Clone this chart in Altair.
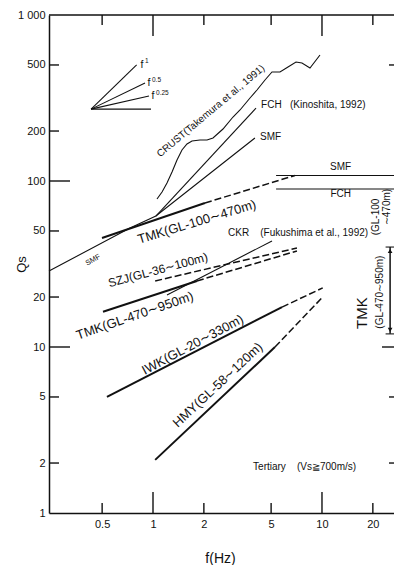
import altair as alt
import pandas as pd

INK = "#111111"
FONT = "Liberation Sans"
NB = "\u00a0"

# ---------------- data ----------------
X_DOMAIN = [0.2424, 26.68]
Y_DOMAIN = [1, 1000]

# reference slopes fan (f^1, f^0.5, f^0.25, f^0)
FAN_F0, FAN_Q0 = 0.43, 271
FAN_END_F = [0.80, 0.897, 0.947, 0.973]
FAN_END_Q = [500, 389, 325, 271]

# CRUST (Takemura et al., 1991)
CRUST_F = [1.056, 1.131, 1.210, 1.296, 1.387, 1.484, 1.589, 1.701, 1.897, 2.087, 2.265, 2.595,
           2.974, 3.273, 3.750, 4.125, 4.600, 5.060, 5.643, 6.293, 7.018, 7.614, 8.492, 9.731]
CRUST_Q = [77.9, 85.9, 97.3, 113.3, 133.8, 153.7, 167.1, 174.2, 176.6, 176.6, 181.6, 205.7,
           242.9, 267.8, 316.2, 353.3, 405.9, 453.5, 453.5, 486.1, 521.1, 513.8, 479.4, 574.2]

# Kinoshita (1992)
FCH_F = [1.04, 4.07]
FCH_Q = [61.5, 275]
SMF_F = [0.2424, 0.731, 1.04, 4.01]
SMF_Q = [28.7, 52.1, 61.5, 181.6]
SMF_HI_F = [5.35, 26.68]
SMF_HI_Q = [108, 108]
FCH_HI_F = [5.35, 26.68]
FCH_HI_Q = [89.5, 89.5]

# boreholes
TMK1_F, TMK1_Q = [0.499, 2.03], [45.4, 73.7]
TMK1D_F, TMK1D_Q = [2.03, 6.92], [73.7, 108]
TMK2_F, TMK2_Q = [0.506, 1.82], [16.3, 25.0]
TMK2D_F, TMK2D_Q = [1.82, 7.11], [25.0, 37.9]
SZJ_F, SZJ_Q = [1.03, 7.11], [25.0, 39.5]
CKR_F, CKR_Q = [1.21, 5.06], [20.6, 43.5]
IWK_F, IWK_Q = [0.534, 5.80], [5.0, 17.4]
IWKD_F, IWKD_Q = [5.80, 10.1], [17.4, 22.7]
HMY_F, HMY_Q = [1.03, 5.27], [2.09, 10.0]
HMYD_F, HMYD_Q = [5.27, 10.1], [10.0, 20.0]

# TMK (GL-470~950m) range bar
RANGE_F = 25.3
RANGE_Q = [12, 40]

# axis ticks
X_LABELS = [0.5, 1, 2, 5, 10, 20]
XT_SHORT = [0.5, 2, 5, 20]
XT_LONG = [1, 10]
Y_LABELS = [1, 2, 5, 10, 20, 50, 100, 200, 500, 1000]
YT_SHORT = [2, 5, 20, 50, 200, 500]
YT_LONG = [10, 100]
RT_SHORT = [2, 5, 500]
RT_LONG = [10]

# annotations (centered)
C_TEXT = ["CRUST(Takemura et al., 1991)", "SMF", "TMK(GL-100\u223c470m)", "SZJ(GL-36\u223c100m)",
          "TMK(GL-470\u223c950m)", "IWK(GL-20\u223c330m)", "HMY(GL-58\u223c120m)", "SMF", "FCH",
          "TMK", "(GL-470\u223c950m)", "(GL-100", "\u223c470m)", "f", "f", "f"]
C_F = [2.20, 0.442, 1.82, 1.07, 0.782, 1.72, 2.42, 12.9, 12.9, 17.3, 22.0, 20.9, 24.3, 0.861, 0.947, 1.0]
C_Q = [264, 33.4, 56.6, 29.1, 15.4, 10.3, 5.90, 121.5, 83.5, 16.0, 21.4, 60.7, 69.7, 500, 389, 325]
C_ANGLE = [320, 330, 343, 345, 341, 332, 317, 0, 0, 270, 270, 270, 270, 0, 0, 0]
C_SIZE = [10, 7.5, 13, 12, 13, 13, 13, 10, 10, 15, 10, 10, 10, 10.5, 10.5, 10.5]

# annotations (left aligned)
L_TEXT = ["FCH" + NB * 3 + "(Kinoshita, 1992)", "SMF", "CKR" + NB * 4 + "(Fukushima et al., 1992)",
          "Tertiary" + NB * 4 + "(Vs\u2267700m/s)", "1", "0.5", "0.25"]
L_F = [4.36, 4.30, 2.78, 3.91, 0.897, 0.986, 1.042]
L_Q = [287, 184, 48.6, 1.89, 528, 406, 339]
L_SIZE = [10, 10, 10, 10, 6.5, 6.5, 6.5]

# ---------------- build tables ----------------
def seg(name, fs, qs):
    return [dict(id=name, i=i, f=f, q=q) for i, (f, q) in enumerate(zip(fs, qs))]

thin_rows = []
for k, (ef, eq) in enumerate(zip(FAN_END_F, FAN_END_Q)):
    thin_rows += seg(f"fan{k}", [FAN_F0, ef], [FAN_Q0, eq])
thin_rows += seg("crust", CRUST_F, CRUST_Q)
thin_rows += seg("fch", FCH_F, FCH_Q)
thin_rows += seg("smf", SMF_F, SMF_Q)
thin_rows += seg("smfhi", SMF_HI_F, SMF_HI_Q)
thin_rows += seg("fchhi", FCH_HI_F, FCH_HI_Q)
thin_rows += seg("ckr", CKR_F, CKR_Q)
thin_df = pd.DataFrame(thin_rows)

thick_df = pd.DataFrame(seg("tmk1", TMK1_F, TMK1_Q) + seg("tmk2", TMK2_F, TMK2_Q)
                        + seg("iwk", IWK_F, IWK_Q) + seg("hmy", HMY_F, HMY_Q))
dash_df = pd.DataFrame(seg("tmk1d", TMK1D_F, TMK1D_Q) + seg("tmk2d", TMK2D_F, TMK2D_Q)
                       + seg("szj", SZJ_F, SZJ_Q) + seg("iwkd", IWKD_F, IWKD_Q)
                       + seg("hmyd", HMYD_F, HMYD_Q))

cdf = pd.DataFrame(dict(t=C_TEXT, f=C_F, q=C_Q, a=C_ANGLE, s=C_SIZE))
ldf = pd.DataFrame(dict(t=L_TEXT, f=L_F, q=L_Q, s=L_SIZE))

xs = alt.Scale(type="log", domain=X_DOMAIN, nice=False)
ys = alt.Scale(type="log", domain=Y_DOMAIN, nice=False)

x_axis = alt.Axis(values=X_LABELS, title="f(Hz)", labelExpr="'' + datum.value",
                  labelPadding=5, titleX=171, titleY=45, titleAlign="center",
                  titleBaseline="middle", titleFontSize=14, labelFlush=False)
y_axis = alt.Axis(values=Y_LABELS, title="Qs",
                  labelExpr="datum.value == 1000 ? '1 000' : '' + datum.value",
                  labelPadding=4, titleX=-28, titleY=249, titleAlign="center",
                  titleBaseline="middle", titleAngle=270, titleFontSize=13, labelFlush=False)

X = alt.X("f:Q", scale=xs, axis=x_axis)
Y = alt.Y("q:Q", scale=ys, axis=y_axis)

thin = alt.Chart(thin_df).mark_line(color=INK, strokeWidth=1.1).encode(
    x=X, y=Y, detail="id:N", order="i:Q")
thick = alt.Chart(thick_df).mark_line(color=INK, strokeWidth=2.0).encode(
    x=X, y=Y, detail="id:N", order="i:Q")
dash = alt.Chart(dash_df).mark_line(color=INK, strokeWidth=1.5, strokeDash=[7, 3]).encode(
    x=X, y=Y, detail="id:N", order="i:Q")

ctext = alt.Chart(cdf).mark_text(color=INK, font=FONT, align="center", baseline="middle").encode(
    x=X, y=Y, text="t:N", angle=alt.Angle("a:Q", scale=None), size=alt.Size("s:Q", scale=None))
ltext = alt.Chart(ldf).mark_text(color=INK, font=FONT, align="left", baseline="middle").encode(
    x=X, y=Y, text="t:N", size=alt.Size("s:Q", scale=None))

# range bar
rng_df = pd.DataFrame(dict(f=[RANGE_F], q=[RANGE_Q[0]], q2=[RANGE_Q[1]]))
rng = alt.Chart(rng_df).mark_rule(color=INK, strokeWidth=1.5).encode(x=X, y=Y, y2="q2:Q")
cap_df = pd.DataFrame(dict(f=[RANGE_F, RANGE_F], q=RANGE_Q))
caps = alt.Chart(cap_df).mark_tick(color=INK, orient="horizontal", size=9, thickness=1.5).encode(x=X, y=Y)
arr_up = alt.Chart(pd.DataFrame(dict(f=[RANGE_F], q=[RANGE_Q[1]]))).mark_point(
    shape="triangle-up", filled=True, color=INK, size=22, opacity=1, yOffset=4).encode(x=X, y=Y)
arr_dn = alt.Chart(pd.DataFrame(dict(f=[RANGE_F], q=[RANGE_Q[0]]))).mark_point(
    shape="triangle-down", filled=True, color=INK, size=22, opacity=1, yOffset=-4).encode(x=X, y=Y)

# inward ticks
W, H = 345, 498
def xticks(vals, length):
    d = pd.DataFrame(dict(f=vals))
    b = alt.Chart(d).mark_rule(color=INK, strokeWidth=1.4).encode(
        x=X, y=alt.value(H), y2=alt.value(H - length))
    t = alt.Chart(d).mark_rule(color=INK, strokeWidth=1.4).encode(
        x=X, y=alt.value(0), y2=alt.value(length))
    return b + t

def yticks(vals, length, right=False):
    d = pd.DataFrame(dict(q=vals))
    if right:
        return alt.Chart(d).mark_rule(color=INK, strokeWidth=1.4).encode(
            y=Y, x=alt.value(W - length), x2=alt.value(W))
    return alt.Chart(d).mark_rule(color=INK, strokeWidth=1.4).encode(
        y=Y, x=alt.value(0), x2=alt.value(length))

top_line = alt.Chart(pd.DataFrame(dict(a=[0]))).mark_rule(color=INK, strokeWidth=1.5).encode(
    y=alt.value(0), x=alt.value(0), x2=alt.value(W))

chart = alt.layer(
    thin, thick, dash, rng, caps, arr_up, arr_dn,
    xticks(XT_SHORT, 10), xticks(XT_LONG, 21),
    yticks(YT_SHORT, 10), yticks(YT_LONG, 21),
    yticks(RT_SHORT, 5, right=True), yticks(RT_LONG, 12, right=True),
    top_line, ctext, ltext,
).properties(
    width=W, height=H,
    autosize=alt.AutoSizeParams(type="none"),
    padding={"left": 49, "top": 15, "right": 0, "bottom": 52},
).configure_view(stroke=None).configure_axis(
    grid=False, ticks=False, domainColor=INK, domainWidth=1.5,
    labelFont=FONT, labelFontSize=11, labelColor=INK,
    titleFont=FONT, titleFontWeight="normal", titleColor=INK,
)

chart.save("out.html", embed_options={"renderer": "svg", "actions": False})
